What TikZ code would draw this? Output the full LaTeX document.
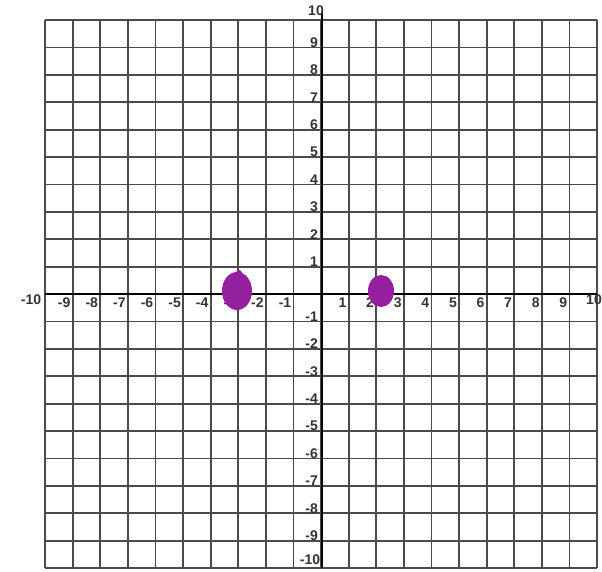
\documentclass[tikz,border=0pt]{standalone}
\usepackage{fontspec}
\setmainfont{Liberation Sans}
\definecolor{gridgray}{RGB}{75,75,75}
\definecolor{dotpurple}{RGB}{148,32,160}
\tikzset{
  gridline/.style={draw=gridgray, line width=1.8pt},
  axisline/.style={draw=black, line width=2.6pt},
  lbl/.style={font=\fontsize{14}{14}\selectfont\bfseries, text=black!80, inner sep=0pt},
  dotmark/.style={fill=dotpurple, draw=none}
}
\begin{document}
\begin{tikzpicture}[x=1pt,y=-1pt]
\useasboundingbox (0,0) rectangle (602,571);
\fill[white] (0,0) rectangle (602,571);
% grid
\foreach \i in {0,...,20}{
  \draw[gridline] ({45+27.6*\i},20) -- ({45+27.6*\i},568);
  \draw[gridline] (45,{20+27.4*\i}) -- (597,{20+27.4*\i});
}
% axes
\coordinate (ytop) at (322,12);
\coordinate (ybot) at (322,568);
\coordinate (xl) at (45,294);
\coordinate (xr) at (597,294);
\draw[axisline] (ytop) -- (ybot);
\draw[axisline] (xl) -- (xr);
% x labels
\foreach \v in {-9,...,-1,1,2,...,9}{
  \node[lbl, anchor=east] (xlab\v) at ({321+27.6*\v-2},303) {\v};
}
\node[lbl] (xlabm10) at (31,300) {-10};
\node[lbl] (xlabp10) at (594,300) {10};
% y labels
\foreach \v in {1,...,9}{
  \node[lbl, anchor=east] (ylab\v) at (318,{294-27.4*\v-5}) {\v};
}
\foreach \v in {-1,-2,...,-9}{
  \node[lbl, anchor=east] (ylabn\v) at (318,{294-27.4*\v-5}) {\v};
}
\node[lbl] (ylabp10) at (316,11) {10};
\node[lbl] (ylabm10) at (310,560) {-10};
% points
\fill[dotmark] (237,291) ellipse [x radius=15, y radius=19];
\fill[dotmark] (239,273) circle (3);
\fill[dotmark] (381,291) ellipse [x radius=13, y radius=16];
\end{tikzpicture}
\end{document}
